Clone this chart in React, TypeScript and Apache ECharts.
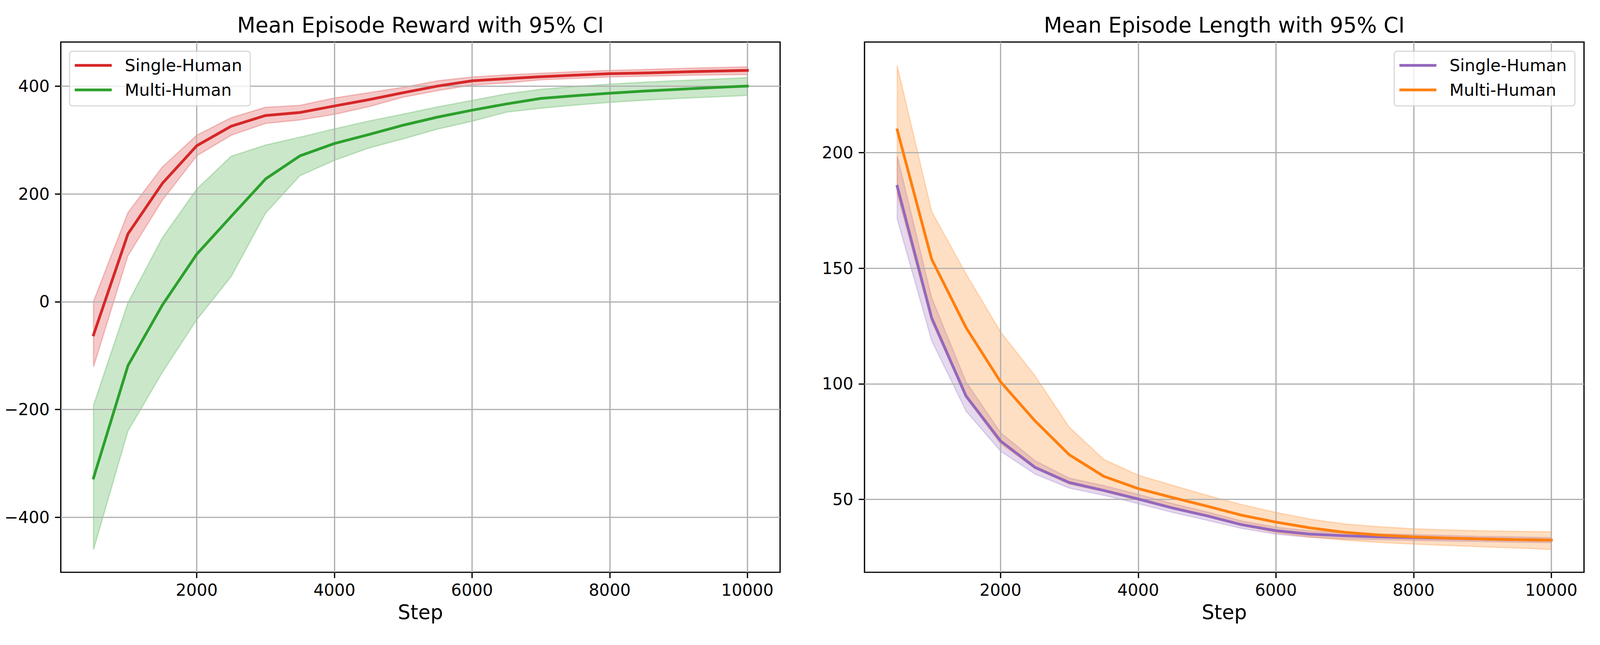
import React, { useEffect, useRef } from "react";
import * as echarts from "echarts";

const steps = [500, 1000, 1500, 2000, 2500, 3000, 3500, 4000, 4500, 5000, 5500, 6000, 6500, 7000, 7500, 8000, 8500, 9000, 9500, 10000];

const rewardSingleMean = [-61.6, 125.8, 219.6, 289.5, 325.8, 345.7, 351.2, 363.3, 375, 388, 400.3, 410, 414, 417.7, 420.5, 423.3, 424.5, 426.4, 428, 429.3];
const rewardSingleUpper = [0.9, 165.4, 250, 309, 341.6, 361, 364.5, 378.2, 388, 398, 410, 417.2, 421, 424, 427, 429.3, 431, 433, 434.5, 436];
const rewardSingleLower = [-120.8, 85.3, 188.4, 270.8, 309, 331, 337.4, 347.8, 362, 379.7, 391.8, 402.2, 406, 411.9, 414.5, 417.2, 418.5, 420, 421, 421.6];

const rewardMultiMean = [-327, -118.7, -6.2, 88.3, 158.3, 227.9, 270.8, 293.7, 310.3, 327.7, 342.7, 355.5, 367.1, 377.3, 382.5, 387, 391, 394.3, 397.5, 400.3];
const rewardMultiUpper = [-192, -2, 118.7, 209.1, 270, 290.8, 305.4, 320.8, 335.3, 348.3, 361.6, 373.7, 385.8, 394.3, 399.5, 403.9, 407.5, 410.4, 413, 416];
const rewardMultiLower = [-460, -240, -131, -33.3, 46.7, 164.5, 234.1, 262.4, 285.3, 302.3, 320.5, 335, 351.9, 359.1, 365, 370, 374, 377.3, 380, 382.9];

const lengthSingleMean = [185.4, 128.5, 94.7, 75.3, 63.9, 57.3, 53.9, 50.2, 46.3, 42.9, 39.1, 36.5, 35.0, 34.3, 33.8, 33.5, 33.2, 32.9, 32.6, 32.4];
const lengthSingleUpper = [198.5, 137.2, 100.8, 78.9, 66.8, 59.2, 56, 52.2, 48.2, 44.6, 40.7, 38, 36.4, 35.5, 35.1, 34.8, 34.4, 34, 33.8, 33.5];
const lengthSingleLower = [171.3, 118.7, 88.2, 70.9, 61, 54.9, 51.8, 48.2, 44.4, 41, 37.5, 35, 33.6, 32.9, 32.6, 32.3, 32, 31.8, 31.5, 31.3];

const lengthMultiMean = [209.8, 153.9, 124.3, 100.9, 84, 69.3, 60, 54.7, 50.8, 47.1, 43.2, 40.2, 37.7, 35.8, 34.6, 33.8, 33.3, 32.9, 32.6, 32.4];
const lengthMultiUpper = [237.5, 174.5, 147.5, 122.5, 103.5, 81.2, 67.3, 60.5, 56.1, 51.8, 47.8, 44.4, 41.5, 39.4, 38.2, 37.3, 36.8, 36.4, 36.2, 36.0];
const lengthMultiLower = [182, 127, 94, 74.1, 63.4, 56.6, 53.4, 49.8, 46.2, 42.6, 38.7, 35.7, 33.8, 32.4, 31.4, 30.7, 30.1, 29.5, 29.0, 28.4];

const xTicks = [2000, 4000, 6000, 8000, 10000];
const rewardTicks = [-400, -200, 0, 200, 400];
const lengthTicks = [50, 100, 150, 200];

const titles = ["Mean Episode Reward with 95% CI", "Mean Episode Length with 95% CI"];
const seriesNames = ["Single-Human", "Multi-Human"];
const xLabel = "Step";

const FONT = "DejaVu Sans";
const RED = "#d62728";
const GREEN = "#2ca02c";
const PURPLE = "#9467bd";
const ORANGE = "#ff7f0e";

const REF_W = 4303;
const REF_H = 1650;

function rgba(hex: string, a: number) {
  const r = parseInt(hex.slice(1, 3), 16);
  const g = parseInt(hex.slice(3, 5), 16);
  const b = parseInt(hex.slice(5, 7), 16);
  return `rgba(${r},${g},${b},${a})`;
}

function buildOption(W: number, H: number) {
  const sx = W / REF_W;
  const sy = H / REF_H;
  const s = Math.min(sx, sy);
  const X = (v: number) => v * sx;
  const Y = (v: number) => v * sy;
  const S = (v: number) => v * s;

  const gridTop = Y(107.5);
  const gridH = Y(1356.5);
  const gridLefts = [X(163.5), X(2325)];
  const gridWs = [X(1934.5), X(1935)];

  const tickFs = S(44.3);
  const titleFs = S(57);
  const nameFs = S(53.3);
  const legendFs = S(44.8);
  const lineW = S(7.4);

  const mkX = (gridIndex: number) => ({
    type: "value",
    gridIndex,
    min: 25,
    max: 10475,
    axisLine: { show: false, onZero: false },
    axisTick: { show: true, length: S(15.6), lineStyle: { color: "#000", width: S(3.4) }, customValues: xTicks },
    axisLabel: { show: true, customValues: xTicks, fontSize: tickFs, color: "#000", margin: S(25.5), fontFamily: FONT, formatter: (v: number) => String(v) },
    splitLine: { show: true, lineStyle: { color: "#b0b0b0", width: S(3.4) } },
    name: xLabel,
    nameLocation: "middle",
    nameGap: S(81),
    nameTextStyle: { fontSize: nameFs, color: "#000", fontFamily: FONT },
  });

  const mkY = (gridIndex: number, min: number, max: number, ticks: number[]) => ({
    type: "value",
    gridIndex,
    min,
    max,
    axisLine: { show: false, onZero: false },
    axisTick: { show: true, length: S(15.6), lineStyle: { color: "#000", width: S(3.4) }, customValues: ticks },
    axisLabel: {
      show: true,
      customValues: ticks,
      fontSize: tickFs,
      color: "#000",
      margin: S(30),
      fontFamily: FONT,
      formatter: (v: number) => String(v).replace("-", "\u2212"),
    },
    splitLine: { show: true, lineStyle: { color: "#b0b0b0", width: S(3.4) } },
  });

  const band = (axisIndex: number, upper: number[], lower: number[], color: string) => ({
    type: "custom",
    xAxisIndex: axisIndex,
    yAxisIndex: axisIndex,
    z: -1,
    silent: true,
    clip: true,
    data: steps.map((st, i) => [st, lower[i], upper[i]]),
    encode: { x: 0, y: [1, 2] },
    renderItem: (params: any, api: any) => {
      if (params.dataIndex !== 0) return null;
      const pts: number[][] = [];
      for (let i = 0; i < steps.length; i++) pts.push(api.coord([steps[i], upper[i]]));
      for (let i = steps.length - 1; i >= 0; i--) pts.push(api.coord([steps[i], lower[i]]));
      return {
        type: "polygon",
        shape: { points: pts },
        style: { fill: rgba(color, 0.25), stroke: rgba(color, 0.25), lineWidth: S(3.5) },
      };
    },
  });

  const line = (axisIndex: number, name: string, values: number[], color: string) => ({
    type: "line",
    name,
    xAxisIndex: axisIndex,
    yAxisIndex: axisIndex,
    data: steps.map((st, i) => [st, values[i]]),
    showSymbol: false,
    symbol: "none",
    silent: true,
    z: 3,
    emphasis: { disabled: true },
    itemStyle: { color },
    lineStyle: { color, width: lineW, join: "round", cap: "square" },
  });

  const legend = (left: number, colors: string[]) => ({
    show: true,
    orient: "vertical",
    left,
    top: Y(131),
    padding: [S(13), S(22), S(18), S(14)],
    itemGap: S(16),
    itemWidth: S(99.5),
    itemHeight: lineW,
    selectedMode: false,
    backgroundColor: "rgba(255,255,255,0.8)",
    borderColor: "rgba(204,204,204,0.8)",
    borderWidth: S(3),
    borderRadius: S(8),
    textStyle: { fontSize: legendFs, color: "#000", lineHeight: S(50), padding: [0, 0, 0, S(30)], fontFamily: FONT },
    data: seriesNames.map((n, i) => ({ name: n, icon: "rect", itemStyle: { color: colors[i], borderWidth: 0 } })),
  });

  return {
    animation: false,
    backgroundColor: "#ffffff",
    textStyle: { fontFamily: FONT },
    grid: gridLefts.map((l, i) => ({
      left: l,
      top: gridTop,
      width: gridWs[i],
      height: gridH,
      show: true,
      borderColor: "#000",
      borderWidth: S(3.4),
      backgroundColor: "rgba(0,0,0,0)",
      containLabel: false,
      outerBoundsMode: "none",
    })),
    xAxis: [mkX(0), mkX(1)],
    yAxis: [mkY(0, -502, 482, rewardTicks), mkY(1, 18.5, 247.8, lengthTicks)],
    legend: [legend(X(187), [RED, GREEN]), legend(X(3749.5), [PURPLE, ORANGE])],
    series: [
      band(0, rewardSingleUpper, rewardSingleLower, RED),
      band(0, rewardMultiUpper, rewardMultiLower, GREEN),
      line(0, seriesNames[0], rewardSingleMean, RED),
      line(0, seriesNames[1], rewardMultiMean, GREEN),
      band(1, lengthSingleUpper, lengthSingleLower, PURPLE),
      band(1, lengthMultiUpper, lengthMultiLower, ORANGE),
      line(1, seriesNames[0], lengthSingleMean, PURPLE),
      line(1, seriesNames[1], lengthMultiMean, ORANGE),
    ],
    graphic: gridLefts.map((l, i) => ({
      type: "text",
      x: l + gridWs[i] / 2,
      y: Y(83) - 0.346 * titleFs,
      silent: true,
      style: {
        text: titles[i],
        fontSize: titleFs,
        fontFamily: FONT,
        fill: "#000",
        textAlign: "center",
        textVerticalAlign: "middle",
      },
    })),
  };
}

export default function App() {
  const ref = useRef<HTMLDivElement>(null);
  useEffect(() => {
    document.body.style.margin = "0";
    document.body.style.overflow = "hidden";
    document.documentElement.style.overflow = "hidden";
    const el = ref.current;
    if (!el) return;
    const W = el.clientWidth || REF_W;
    const H = el.clientHeight || REF_H;
    const chart = echarts.init(el, null, { renderer: "svg", width: W, height: H });
    chart.setOption(buildOption(W, H) as any);
    return () => chart.dispose();
  }, []);
  return <div ref={ref} style={{ position: "fixed", left: 0, top: 0, width: "100vw", height: "100vh" }} />;
}
